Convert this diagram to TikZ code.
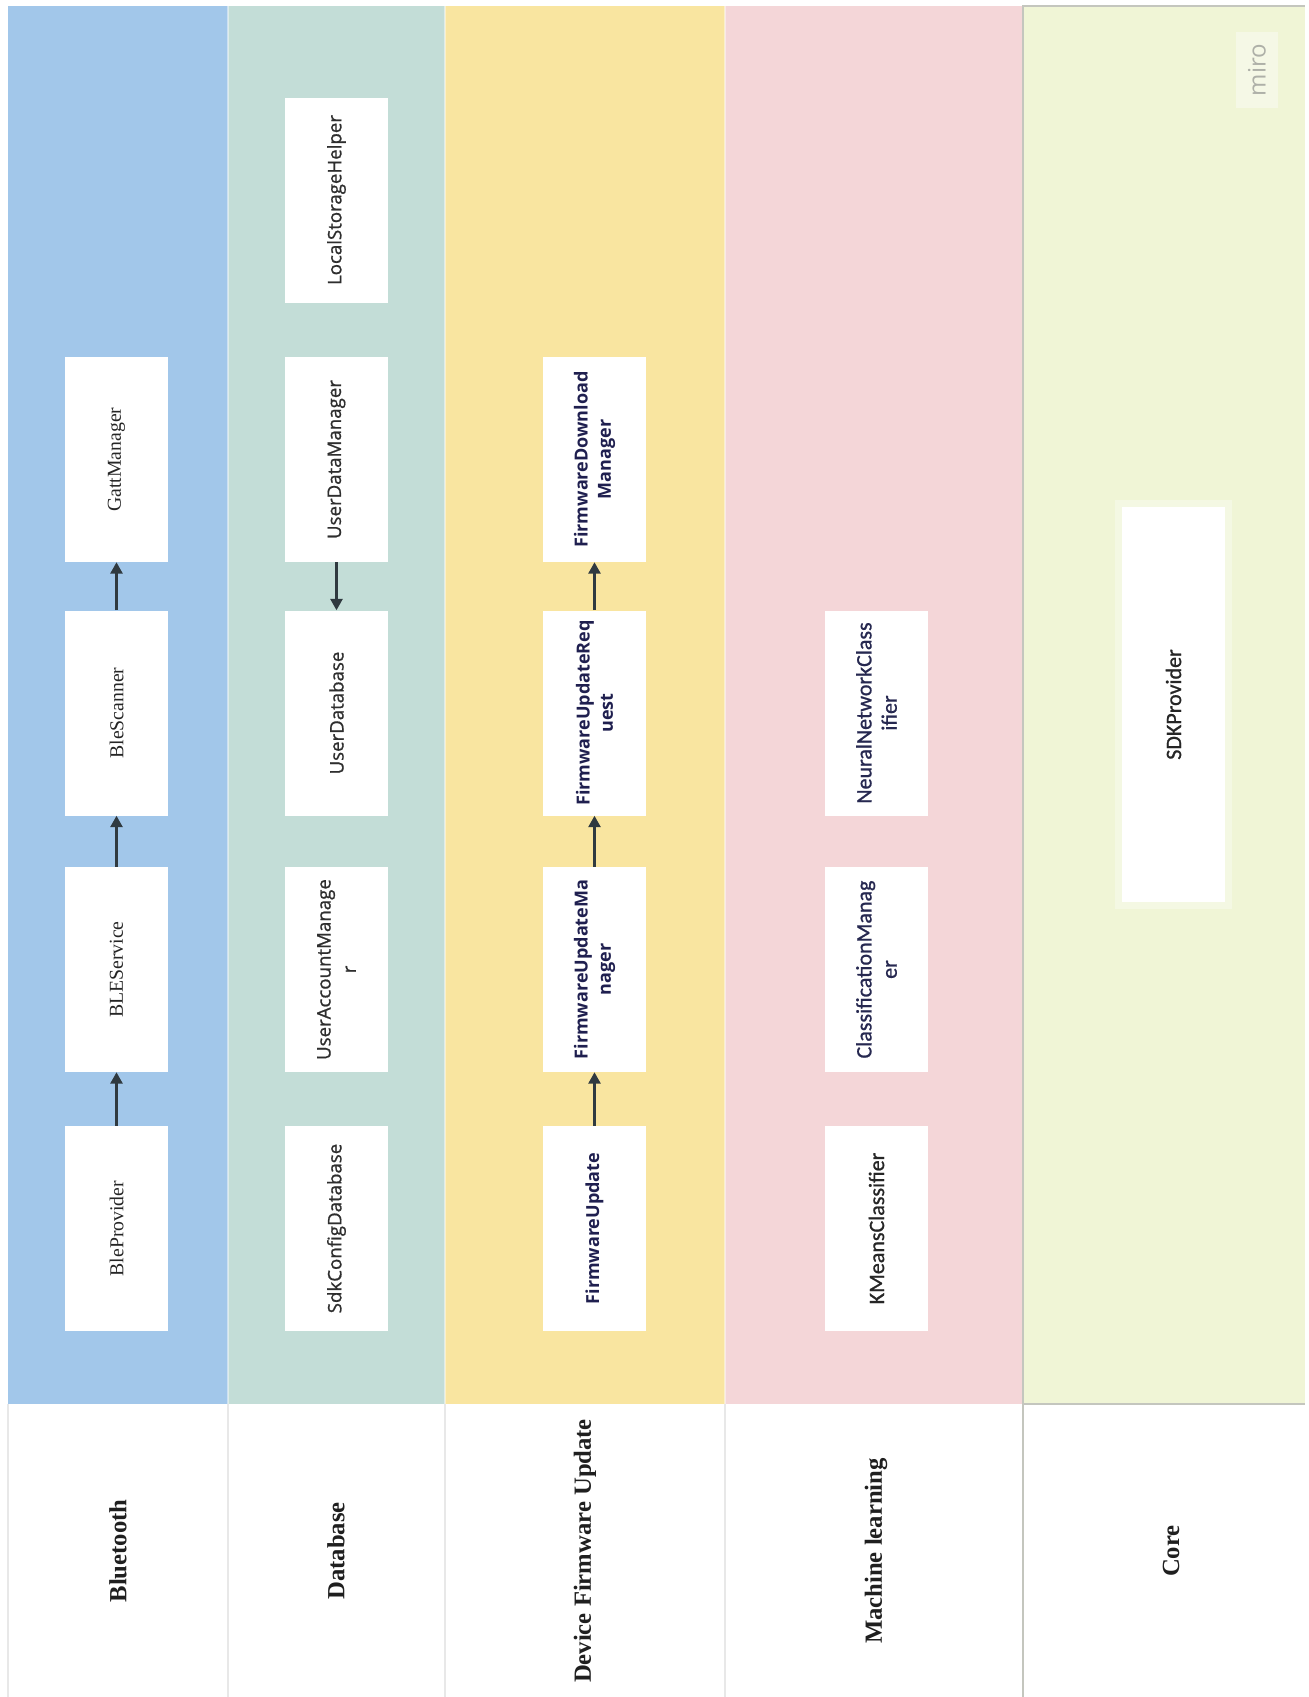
\documentclass[tikz,border=0pt]{standalone}
\usepackage{fontspec}
\setmainfont{Liberation Serif}
\newfontfamily\opensans{Open Sans}
\newfontfamily\dbfont[FakeBold=0.9]{Open Sans}
\newfontfamily\mlfont[FakeBold=0.9]{Carlito}
\usepackage{xcolor}
\usepackage{tikz}
\usetikzlibrary{
  arrows.meta
}
\definecolor{LaneBlue}{HTML}{A2C7EA}
\definecolor{LaneTeal}{HTML}{C3DDD7}
\definecolor{LaneYellow}{HTML}{F9E5A0}
\definecolor{LanePink}{HTML}{F4D6D8}
\definecolor{LaneLime}{HTML}{F0F5D6}
\definecolor{CoreHalo}{HTML}{F4F8E3}
\definecolor{MiroBack}{HTML}{F5F8E6}
\definecolor{MiroGrey}{HTML}{AEB0A8}
\definecolor{LinkGrey}{HTML}{303A40}
\definecolor{TextDark}{HTML}{262626}
\definecolor{TextGrey}{HTML}{2E2E2E}
\definecolor{TextNavy}{HTML}{1F1F4F}
\definecolor{MlNavy}{HTML}{262850}
\definecolor{RuleGrey}{HTML}{E8E8E8}
\definecolor{CoreRule}{HTML}{C4C6BE}

\tikzset{
  classbox/.style={fill=white, rotate=90, minimum width=153.75pt,
                   minimum height=77.25pt, inner sep=3pt, align=center},
  btbox/.style={font=\fontsize{14.8}{18}\selectfont, text=TextDark},
  dbbox/.style={font=\dbfont\fontsize{14}{19}\selectfont, text=TextGrey},
  dfubox/.style={font=\opensans\bfseries\fontsize{13.5}{17.5}\selectfont, text=TextNavy},
  mlbox/.style={font=\mlfont\fontsize{16.5}{19}\selectfont, text=MlNavy},
  lanelabel/.style={rotate=90, font=\bfseries\fontsize{18.5}{22}\selectfont, text=black!88},
  link/.style={-{Triangle[length=8.5pt,width=9pt]}, line width=1.8pt, draw=LinkGrey}
}

\begin{document}
\begin{tikzpicture}[x=0.75pt,y=-0.75pt]
  \useasboundingbox (0,0) rectangle (1309,1697);
  \fill[white] (0,0) rectangle (1309,1697);

  % swim lanes
  \fill[LaneBlue]   (8,6)    rectangle (228,1404);
  \fill[LaneTeal]   (228,6)  rectangle (445,1404);
  \fill[LaneYellow] (445,6)  rectangle (725,1404);
  \fill[LanePink]   (725,6)  rectangle (1023,1404);
  \fill[LaneLime]   (1023,6) rectangle (1305,1404);
  \foreach \x in {228,445,725}
    \draw[white, opacity=0.45, line width=0.8pt] (\x,6) -- (\x,1404);
  \draw[CoreRule, line width=0.8pt] (1023,1404) -- (1023,6) -- (1305,6);
  \draw[CoreRule, line width=1pt] (1023,1404) -- (1305,1404);
  \foreach \x in {8,228,445,725}
    \draw[RuleGrey, line width=0.8pt] (\x,1404) -- (\x,1697);
  \draw[CoreRule, line width=0.8pt] (1023,1404) -- (1023,1697);

  % lane titles
  \node[lanelabel] (btlabel)   at (118,1551)  {Bluetooth};
  \node[lanelabel] (dblabel)   at (336,1551)  {Database};
  \node[lanelabel] (dfulabel)  at (585,1551)  {Device Firmware Update};
  \node[lanelabel] (mllabel)   at (876,1551)  {Machine learning};
  \node[lanelabel] (corelabel) at (1171,1551) {Core};

  \node[fill=MiroBack, rotate=90, minimum width=57pt, minimum height=31.5pt,
        font=\opensans\fontsize{18}{20}\selectfont, text=MiroGrey] (miro) at (1257,70) {miro};

  % Bluetooth
  \node[classbox, btbox] (gatt)    at (116.5,459.5)  {GattManager};
  \node[classbox, btbox] (blescan) at (116.5,713)    {BleScanner};
  \node[classbox, btbox] (bleserv) at (116.5,969.5)  {BLEService};
  \node[classbox, btbox] (bleprov) at (116.5,1228.5) {BleProvider};

  % Database
  \node[classbox, dbbox] (lsh)   at (336.5,200)    {LocalStorageHelper};
  \node[classbox, dbbox] (udm)   at (336.5,459.5)  {UserDataManager};
  \node[classbox, dbbox] (udb)   at (336.5,713)    {UserDatabase};
  \node[classbox, dbbox] (uam)   at (336.5,969.5)  {UserAccountManage\\r};
  \node[classbox, dbbox] (sdkdb) at (336.5,1228.5) {SdkConfigDatabase};

  % Device Firmware Update
  \node[classbox, dfubox] (fdm) at (594.5,459.5)  {FirmwareDownload\\Manager};
  \node[classbox, dfubox] (fur) at (594.5,713)    {FirmwareUpdateReq\\uest};
  \node[classbox, dfubox] (fum) at (594.5,969.5)  {FirmwareUpdateMa\\nager};
  \node[classbox, dfubox] (fu)  at (594.5,1228.5) {FirmwareUpdate};

  % Machine learning
  \node[classbox, mlbox] (nnc) at (876.5,713)    {NeuralNetworkClass\\ifier};
  \node[classbox, mlbox] (cm)  at (876.5,969.5)  {ClassificationManag\\er};
  \node[classbox, mlbox, text=TextDark] (kmc) at (876.5,1228.5) {KMeansClassifier};

  % Core
  \node[classbox, mlbox, text=TextDark, minimum width=296.25pt,
        preaction={draw=CoreHalo, line width=10pt}] (sdkp) at (1173.5,704.5) {SDKProvider};

  \draw[link] (bleprov) -- (bleserv);
  \draw[link] (bleserv) -- (blescan);
  \draw[link] (blescan) -- (gatt);
  \draw[link] (udm) -- (udb);
  \draw[link] (fu) -- (fum);
  \draw[link] (fum) -- (fur);
  \draw[link] (fur) -- (fdm);
\end{tikzpicture}
\end{document}
